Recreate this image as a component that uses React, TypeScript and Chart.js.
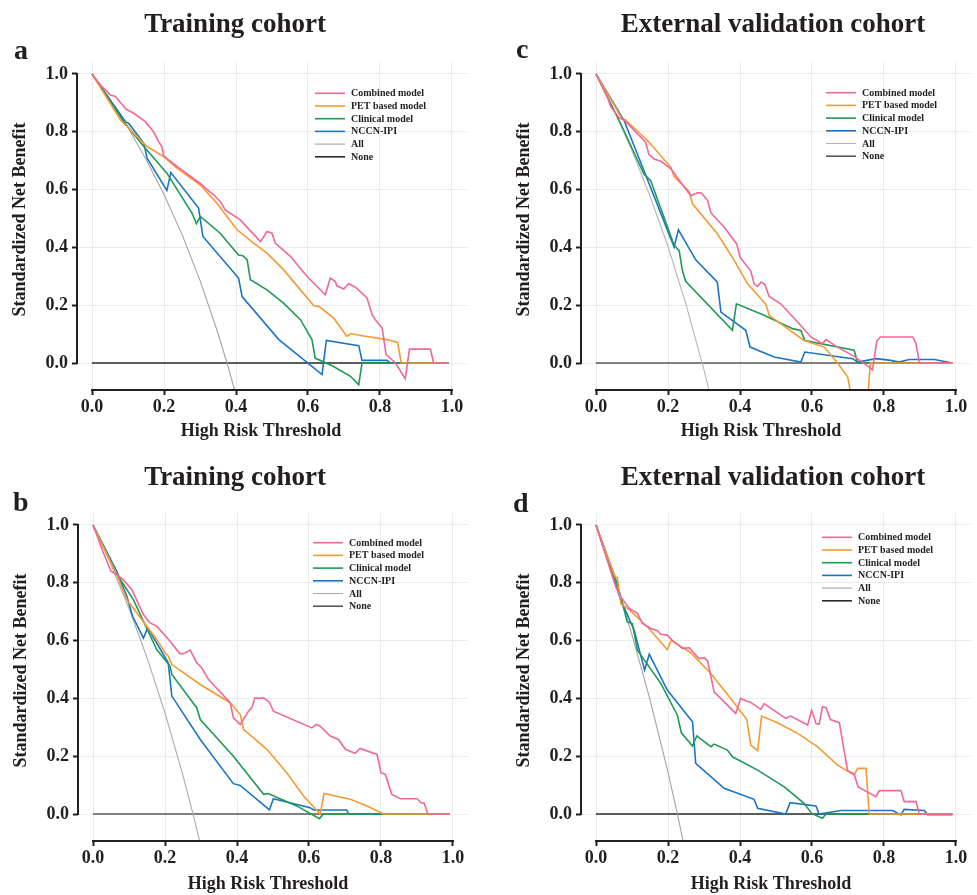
import React, { useEffect, useRef } from 'react';
import { Chart, registerables } from 'chart.js';

Chart.register(...registerables);

const FONT = "'Liberation Serif', 'Times New Roman', Times, serif";
const TEXT = '#231f20';

// ---------- labels / ticks ----------
const seriesLabels = ['Combined model', 'PET based model', 'Clinical model', 'NCCN-IPI', 'All', 'None'];
const tickValues = [0, 0.2, 0.4, 0.6, 0.8, 1.0];
const xAxisTitle = 'High Risk Threshold';
const yAxisTitle = 'Standardized Net Benefit';

// ---------- panel a (Training cohort) ----------
const aCombined = [[0, 1], [0.025, 0.96], [0.051, 0.927], [0.065, 0.922], [0.095, 0.878], [0.116, 0.864], [0.148, 0.835], [0.171, 0.8], [0.185, 0.766], [0.194, 0.749], [0.199, 0.717], [0.236, 0.68], [0.3, 0.622], [0.32, 0.6], [0.338, 0.582], [0.356, 0.559], [0.37, 0.53], [0.412, 0.495], [0.468, 0.42], [0.486, 0.455], [0.5, 0.449], [0.509, 0.415], [0.551, 0.369], [0.597, 0.3], [0.648, 0.236], [0.662, 0.294], [0.676, 0.282], [0.68, 0.267], [0.699, 0.256], [0.713, 0.274], [0.731, 0.263], [0.764, 0.225], [0.778, 0.167], [0.787, 0.15], [0.806, 0.121], [0.817, 0.029], [0.843, 0], [0.87, -0.054], [0.882, 0.048], [0.94, 0.048], [0.949, 0], [0.99, 0]];
const aPET = [[0, 1], [0.04, 0.92], [0.079, 0.841], [0.153, 0.749], [0.199, 0.714], [0.236, 0.674], [0.301, 0.616], [0.347, 0.553], [0.403, 0.461], [0.449, 0.415], [0.486, 0.38], [0.532, 0.323], [0.579, 0.253], [0.616, 0.198], [0.63, 0.196], [0.671, 0.156], [0.708, 0.092], [0.719, 0.101], [0.764, 0.092], [0.819, 0.081], [0.849, 0.071], [0.859, 0], [0.99, 0]];
const aClinical = [[0, 1], [0.088, 0.835], [0.144, 0.749], [0.208, 0.657], [0.278, 0.518], [0.29, 0.482], [0.301, 0.507], [0.356, 0.449], [0.407, 0.374], [0.419, 0.371], [0.431, 0.357], [0.44, 0.288], [0.486, 0.253], [0.532, 0.207], [0.579, 0.15], [0.611, 0.081], [0.62, 0.017], [0.671, -0.012], [0.718, -0.046], [0.741, -0.075], [0.75, 0], [0.99, 0]];
const aNCCN = [[0, 1], [0.093, 0.835], [0.102, 0.829], [0.144, 0.76], [0.153, 0.709], [0.208, 0.597], [0.219, 0.659], [0.296, 0.536], [0.308, 0.438], [0.407, 0.294], [0.417, 0.23], [0.519, 0.081], [0.639, -0.04], [0.651, 0.078], [0.741, 0.06], [0.75, 0.009], [0.819, 0.009], [0.829, 0], [0.99, 0]];
const aAll = [[0, 1], [0.05, 0.91], [0.1, 0.815], [0.15, 0.705], [0.2, 0.583], [0.25, 0.445], [0.3, 0.286], [0.35, 0.103], [0.375, 0], [0.4, -0.11]];

// ---------- panel c (External validation cohort) ----------
const cCombined = [[0, 1], [0.032, 0.919], [0.041, 0.887], [0.064, 0.848], [0.078, 0.841], [0.138, 0.764], [0.147, 0.721], [0.161, 0.706], [0.18, 0.698], [0.208, 0.672], [0.263, 0.579], [0.282, 0.589], [0.293, 0.588], [0.31, 0.562], [0.319, 0.52], [0.356, 0.47], [0.391, 0.412], [0.4, 0.366], [0.43, 0.318], [0.439, 0.274], [0.449, 0.265], [0.458, 0.28], [0.469, 0.272], [0.481, 0.23], [0.513, 0.205], [0.56, 0.142], [0.597, 0.09], [0.629, 0.067], [0.639, 0.081], [0.671, 0.055], [0.717, 0.023], [0.759, -0.014], [0.768, -0.023], [0.78, 0.076], [0.79, 0.09], [0.88, 0.09], [0.889, 0.067], [0.898, 0], [0.99, 0]];
const cPET = [[0, 1], [0.073, 0.844], [0.082, 0.841], [0.143, 0.77], [0.208, 0.677], [0.217, 0.645], [0.259, 0.593], [0.268, 0.551], [0.337, 0.447], [0.384, 0.355], [0.421, 0.274], [0.472, 0.203], [0.481, 0.165], [0.532, 0.119], [0.578, 0.078], [0.634, 0.055], [0.671, 0], [0.699, -0.048], [0.71, -0.12], [0.755, -0.12], [0.762, 0], [0.99, 0]];
const cClinical = [[0, 1], [0.069, 0.827], [0.133, 0.654], [0.152, 0.631], [0.217, 0.407], [0.231, 0.389], [0.24, 0.32], [0.249, 0.283], [0.379, 0.113], [0.39, 0.205], [0.467, 0.165], [0.546, 0.119], [0.569, 0.113], [0.58, 0.078], [0.717, 0.044], [0.727, 0], [0.99, 0]];
const cNCCN = [[0, 1], [0.078, 0.839], [0.133, 0.666], [0.217, 0.401], [0.229, 0.461], [0.277, 0.357], [0.337, 0.28], [0.347, 0.176], [0.416, 0.113], [0.428, 0.055], [0.495, 0.021], [0.569, 0.003], [0.58, 0.038], [0.713, 0.015], [0.727, 0.003], [0.778, 0.015], [0.819, 0.009], [0.842, 0.003], [0.87, 0.012], [0.94, 0.012], [0.99, 0]];
const cAll = [[0, 1], [0.05, 0.874], [0.1, 0.734], [0.15, 0.578], [0.2, 0.403], [0.25, 0.203], [0.3, -0.024], [0.32, -0.125]];

// ---------- panel b (Training cohort) ----------
const bCombined = [[0, 1], [0.029, 0.903], [0.05, 0.84], [0.066, 0.828], [0.084, 0.811], [0.108, 0.776], [0.14, 0.69], [0.158, 0.661], [0.177, 0.65], [0.214, 0.598], [0.241, 0.555], [0.251, 0.555], [0.27, 0.567], [0.288, 0.523], [0.302, 0.506], [0.321, 0.465], [0.381, 0.385], [0.39, 0.333], [0.409, 0.31], [0.432, 0.356], [0.441, 0.368], [0.45, 0.402], [0.46, 0.4], [0.474, 0.402], [0.49, 0.387], [0.501, 0.356], [0.608, 0.298], [0.62, 0.31], [0.631, 0.304], [0.659, 0.27], [0.682, 0.258], [0.701, 0.224], [0.728, 0.21], [0.742, 0.227], [0.789, 0.206], [0.8, 0.143], [0.812, 0.137], [0.83, 0.068], [0.854, 0.053], [0.9, 0.053], [0.911, 0.039], [0.92, 0.037], [0.93, 0], [0.99, 0]];
const bPET = [[0, 1], [0.066, 0.828], [0.094, 0.742], [0.177, 0.604], [0.2, 0.558], [0.209, 0.546], [0.219, 0.517], [0.298, 0.448], [0.381, 0.385], [0.409, 0.344], [0.418, 0.293], [0.483, 0.224], [0.538, 0.143], [0.585, 0.062], [0.631, 0], [0.642, 0.071], [0.715, 0.051], [0.761, 0.028], [0.807, 0], [0.99, 0]];
const bClinical = [[0, 1], [0.07, 0.823], [0.112, 0.742], [0.177, 0.569], [0.214, 0.512], [0.219, 0.483], [0.288, 0.368], [0.298, 0.327], [0.39, 0.2], [0.474, 0.068], [0.487, 0.071], [0.566, 0.028], [0.629, -0.016], [0.64, 0], [0.99, 0]];
const bNCCN = [[0, 1], [0.066, 0.84], [0.094, 0.753], [0.11, 0.684], [0.14, 0.609], [0.152, 0.644], [0.209, 0.523], [0.219, 0.408], [0.298, 0.258], [0.39, 0.105], [0.409, 0.099], [0.49, 0.014], [0.501, 0.053], [0.603, 0.022], [0.613, 0.014], [0.705, 0.014], [0.71, 0], [0.99, 0]];
const bAll = [[0, 1], [0.05, 0.863], [0.1, 0.711], [0.15, 0.541], [0.2, 0.35], [0.25, 0.133], [0.28, -0.011], [0.3, -0.114]];

// ---------- panel d (External validation cohort) ----------
const dCombined = [[0, 1], [0.055, 0.786], [0.069, 0.751], [0.092, 0.711], [0.115, 0.694], [0.129, 0.659], [0.152, 0.642], [0.171, 0.634], [0.18, 0.622], [0.198, 0.619], [0.212, 0.601], [0.24, 0.573], [0.259, 0.575], [0.286, 0.538], [0.3, 0.541], [0.31, 0.53], [0.328, 0.423], [0.388, 0.348], [0.402, 0.4], [0.416, 0.392], [0.43, 0.386], [0.458, 0.362], [0.467, 0.382], [0.527, 0.331], [0.541, 0.339], [0.588, 0.308], [0.599, 0.359], [0.611, 0.313], [0.62, 0.311], [0.629, 0.371], [0.639, 0.369], [0.651, 0.327], [0.676, 0.316], [0.689, 0.221], [0.699, 0.15], [0.717, 0.138], [0.728, 0.094], [0.778, 0.06], [0.787, 0.081], [0.847, 0.081], [0.856, 0.043], [0.889, 0.043], [0.898, 0], [0.99, 0]];
const dPET = [[0, 1], [0.053, 0.82], [0.059, 0.818], [0.069, 0.728], [0.092, 0.707], [0.143, 0.647], [0.198, 0.569], [0.209, 0.601], [0.263, 0.558], [0.319, 0.486], [0.374, 0.4], [0.419, 0.327], [0.43, 0.238], [0.449, 0.219], [0.46, 0.339], [0.504, 0.316], [0.56, 0.279], [0.615, 0.233], [0.671, 0.169], [0.717, 0.135], [0.727, 0.158], [0.75, 0.158], [0.759, 0], [0.99, 0]];
const dClinical = [[0, 1], [0.059, 0.797], [0.087, 0.665], [0.101, 0.659], [0.115, 0.567], [0.18, 0.452], [0.226, 0.342], [0.237, 0.281], [0.268, 0.235], [0.28, 0.27], [0.319, 0.233], [0.328, 0.242], [0.365, 0.221], [0.379, 0.198], [0.449, 0.152], [0.523, 0.094], [0.578, 0.037], [0.599, 0.002], [0.629, -0.015], [0.639, 0], [0.99, 0]];
const dNCCN = [[0, 1], [0.069, 0.74], [0.106, 0.636], [0.135, 0.498], [0.148, 0.553], [0.198, 0.429], [0.268, 0.319], [0.277, 0.175], [0.356, 0.089], [0.439, 0.051], [0.449, 0.02], [0.527, 0], [0.539, 0.039], [0.611, 0.028], [0.62, 0], [0.68, 0.012], [0.773, 0.012], [0.824, 0.012], [0.847, -0.003], [0.856, 0.016], [0.912, 0.012], [0.921, -0.002], [0.99, -0.002]];
const dAll = [[0, 1], [0.05, 0.82], [0.1, 0.62], [0.15, 0.396], [0.2, 0.145], [0.226, 0], [0.25, -0.14]];

// treat-none reference line
const noneLine = [[0, 0], [0.99, 0]];

// ---------- styles ----------
const modelColors = ['#f2679a', '#f59a33', '#1f9a55', '#1b74c5'];

type PanelCfg = {
  letter: string;
  title: string;
  series: number[][][];
  allColor: string;
  noneColor: string;
  left: number;
  top: number;
  width: number;
  padRight: number;
  titleCx: number;
  titleTop: number;
  letterLeft: number;
  letterTop: number;
  legendDx: number;
  legendDy: number;
  xTitleDx: number;
  xTitleDy: number;
};

const panels: PanelCfg[] = [
  { letter: 'a', title: 'Training cohort', series: [aCombined, aPET, aClinical, aNCCN, aAll, noneLine], allColor: '#a3a3a3', noneColor: '#2a2a2a', left: 0, top: 0, width: 488, padRight: 21, titleCx: 235, titleTop: 8, letterLeft: 14, letterTop: 34, legendDx: 238, legendDy: 31.3, xTitleDx: -11, xTitleDy: 41 },
  { letter: 'c', title: 'External validation cohort', series: [cCombined, cPET, cClinical, cNCCN, cAll, noneLine], allColor: '#b5b5b5', noneColor: '#5a5a5a', left: 504, top: 0, width: 473, padRight: 6, titleCx: 773, titleTop: 8, letterLeft: 516, letterTop: 33, legendDx: 245, legendDy: 30.7, xTitleDx: -15, xTitleDy: 41 },
  { letter: 'b', title: 'Training cohort', series: [bCombined, bPET, bClinical, bNCCN, bAll, noneLine], allColor: '#ababab', noneColor: '#5a5a5a', left: 1, top: 451, width: 488, padRight: 21, titleCx: 235, titleTop: 461, letterLeft: 13, letterTop: 486, legendDx: 235, legendDy: 29.7, xTitleDx: -5, xTitleDy: 43 },
  { letter: 'd', title: 'External validation cohort', series: [dCombined, dPET, dClinical, dNCCN, dAll, noneLine], allColor: '#a3a3a3', noneColor: '#2a2a2a', left: 504, top: 451, width: 473, padRight: 6, titleCx: 773, titleTop: 461, letterLeft: 513, letterTop: 487, legendDx: 241, legendDy: 24.3, xTitleDx: -5, xTitleDy: 43 },
];

const CANVAS_H = 447;

const decorPlugin = {
  id: 'decor',
  afterDatasetsDraw(chart: any, _args: any, opts: any) {
    const { ctx, chartArea, scales } = chart;
    const x = scales.x;
    const y = scales.y;
    ctx.save();
    // axis lines spanning 0..1 (offset base-R style)
    ctx.strokeStyle = TEXT;
    ctx.lineWidth = 2;
    ctx.lineCap = 'butt';
    ctx.beginPath();
    ctx.moveTo(chartArea.left, y.getPixelForValue(1) - 1);
    ctx.lineTo(chartArea.left, y.getPixelForValue(0) + 1);
    ctx.stroke();
    ctx.beginPath();
    ctx.moveTo(x.getPixelForValue(0) - 1, chartArea.bottom);
    ctx.lineTo(x.getPixelForValue(1) + 1, chartArea.bottom);
    ctx.stroke();

    // legend
    const lx = chartArea.left + opts.legendDx;
    const ly = chartArea.top + opts.legendDy;
    ctx.font = `bold 10px ${FONT}`;
    ctx.textBaseline = 'middle';
    ctx.textAlign = 'left';
    chart.data.datasets.forEach((ds: any, i: number) => {
      const yy = ly + i * 12.7;
      ctx.strokeStyle = ds.borderColor;
      ctx.lineWidth = ds.borderWidth;
      ctx.beginPath();
      ctx.moveTo(lx, yy);
      ctx.lineTo(lx + 30, yy);
      ctx.stroke();
      ctx.fillStyle = TEXT;
      ctx.fillText(ds.label, lx + 36, yy + 0.5);
    });

    // axis titles
    ctx.fillStyle = TEXT;
    ctx.font = `bold 18px ${FONT}`;
    ctx.textAlign = 'center';
    ctx.textBaseline = 'middle';
    ctx.fillText(xAxisTitle, (chartArea.left + chartArea.right) / 2 + opts.xTitleDx, chartArea.bottom + opts.xTitleDy);
    ctx.translate(chartArea.left - 57, (y.getPixelForValue(0) + y.getPixelForValue(1)) / 2 + 1);
    ctx.rotate(-Math.PI / 2);
    ctx.fillText(yAxisTitle, 0, 0);
    ctx.restore();
  },
};

function Panel({ cfg }: { cfg: PanelCfg }) {
  const ref = useRef<HTMLCanvasElement | null>(null);
  useEffect(() => {
    if (!ref.current) return;
    const colors = [...modelColors, cfg.allColor, cfg.noneColor];
    const widths = [1.6, 1.6, 1.6, 1.6, 1.1, 1.6];
    const orders = [1, 2, 3, 4, 5, 6];
    const datasets = cfg.series.map((pts, i) => ({
      label: seriesLabels[i],
      data: pts.map((p) => ({ x: p[0], y: p[1] })),
      borderColor: colors[i],
      backgroundColor: colors[i],
      borderWidth: widths[i],
      pointRadius: 0,
      tension: 0,
      fill: false,
      order: orders[i],
    }));
    const tickFont = { family: FONT, size: 18, weight: 'bold' as const };
    const chart = new Chart(ref.current, {
      type: 'line',
      data: { datasets },
      plugins: [decorPlugin],
      options: {
        animation: false,
        responsive: false,
        maintainAspectRatio: false,
        layout: { padding: { left: 0, top: 62, right: cfg.padRight, bottom: 0 } },
        plugins: {
          legend: { display: false },
          tooltip: { enabled: false },
          title: { display: false },
          decor: { legendDx: cfg.legendDx, legendDy: cfg.legendDy, xTitleDx: cfg.xTitleDx, xTitleDy: cfg.xTitleDy },
        } as any,
        scales: {
          x: {
            type: 'linear',
            min: -0.0417,
            max: 1.0417,
            afterBuildTicks: (s: any) => {
              s.ticks = tickValues.map((v) => ({ value: v }));
            },
            afterFit: (s: any) => {
              s.height = 57;
            },
            border: { display: false },
            grid: { color: '#ebebeb', lineWidth: 1, drawTicks: true, tickLength: 5, tickColor: TEXT, tickWidth: 2 },
            ticks: { font: tickFont, color: TEXT, padding: 2, maxRotation: 0, autoSkip: false, callback: (v: any) => Number(v).toFixed(1) },
          },
          y: {
            type: 'linear',
            min: -0.0934,
            max: 1.0415,
            afterBuildTicks: (s: any) => {
              s.ticks = tickValues.map((v) => ({ value: v }));
            },
            afterFit: (s: any) => {
              s.width = 77;
            },
            border: { display: false },
            grid: { color: '#ebebeb', lineWidth: 1, drawTicks: true, tickLength: 5, tickColor: TEXT, tickWidth: 2 },
            ticks: { font: tickFont, color: TEXT, padding: 4, autoSkip: false, callback: (v: any) => Number(v).toFixed(1) },
          },
        },
      } as any,
    });
    return () => chart.destroy();
  }, [cfg]);

  return (
    <>
      <canvas
        ref={ref}
        width={cfg.width}
        height={CANVAS_H}
        style={{ position: 'absolute', left: cfg.left, top: cfg.top, width: cfg.width, height: CANVAS_H }}
      />
      <div
        style={{
          position: 'absolute',
          left: cfg.titleCx - 250,
          top: cfg.titleTop,
          width: 500,
          textAlign: 'center',
          font: `bold 27px/30px ${FONT}`,
          color: TEXT,
          whiteSpace: 'nowrap',
        }}
      >
        {cfg.title}
      </div>
      <div
        style={{
          position: 'absolute',
          left: cfg.letterLeft,
          top: cfg.letterTop,
          font: `bold 28px/32px ${FONT}`,
          color: TEXT,
        }}
      >
        {cfg.letter}
      </div>
    </>
  );
}

export default function App() {
  return (
    <div
      style={{
        position: 'absolute',
        left: 0,
        top: 0,
        width: 977,
        height: 895,
        overflow: 'hidden',
        background: '#ffffff',
      }}
    >
      {panels.map((p) => (
        <Panel key={p.letter} cfg={p} />
      ))}
    </div>
  );
}
